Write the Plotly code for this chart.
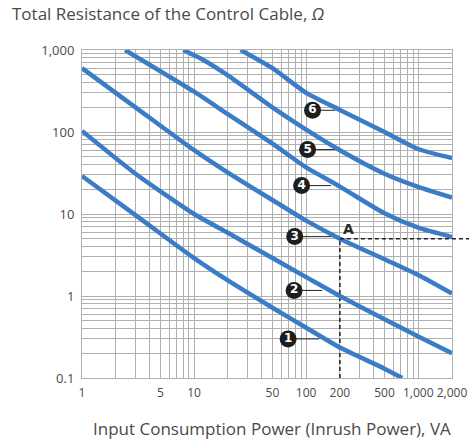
import numpy as np
import plotly.graph_objects as go

# Cable resistance (Ω) against input consumption power (VA) for each numbered curve
curve1_va = [1, 3, 10, 20, 50, 100, 200, 500, 720]
curve1_ohm = [29, 9.7, 2.9, 1.55, 0.72, 0.41, 0.235, 0.13, 0.1]
curve2_va = [1, 3, 10, 20, 50, 100, 200, 500, 1000, 2000]
curve2_ohm = [103, 31, 10, 5.9, 2.9, 1.7, 1.0, 0.52, 0.32, 0.2]
curve3_va = [1, 3, 10, 20, 50, 100, 200, 500, 1000, 2000]
curve3_ohm = [600, 200, 60, 32, 14.8, 8.3, 5.0, 2.8, 1.8, 1.07]
curve4_va = [2.42, 10, 20, 50, 100, 200, 500, 1000, 2000]
curve4_ohm = [1000, 310, 165, 72, 37, 21.6, 10.2, 6.8, 5.25]
curve5_va = [8, 12, 20, 50, 100, 200, 500, 1000, 2000]
curve5_ohm = [1000, 760, 490, 200, 107, 60, 31, 21.4, 15.8]
curve6_va = [26, 50, 100, 200, 500, 1000, 2000]
curve6_ohm = [1000, 600, 300, 186, 100, 62, 48]

curves = [
    (curve1_va, curve1_ohm),
    (curve2_va, curve2_ohm),
    (curve3_va, curve3_ohm),
    (curve4_va, curve4_ohm),
    (curve5_va, curve5_ohm),
    (curve6_va, curve6_ohm),
]

# Worked example: point A on curve 3
A_VA = 200
A_OHM = 5.0

# Axis ticks
x_tickvals = [1, 5, 10, 50, 100, 200, 500, 1000, 2000]
x_ticktext = ["1", "5", "10", "50", "100", "200", "500", "1,000", "2,000"]
y_tickvals = [0.1, 1, 10, 100, 1000]
y_ticktext = ["0.1", "1", "10", "100", "1,000"]

# Numbered callouts: badge position and where its leader meets the curve
callout_text = ["1", "2", "3", "4", "5", "6"]
callout_va = [69, 78, 79, 91, 103, 114]
callout_ohm = [0.30, 1.17, 5.3, 22.2, 61, 184]
leader_end_va = [131, 139, 178, 167, 182, 182]

BLUE = "#3b7cc7"
GRID = "#b0b0b0"
TEXT = "#4a4a4a"
FONT = "Open Sans"

fig = go.Figure()

# leader lines first so the curves sit on top of them
for va, ohm, end in zip(callout_va, callout_ohm, leader_end_va):
    fig.add_trace(go.Scatter(
        x=[va, end], y=[ohm, ohm], mode="lines",
        line=dict(color="#222222", width=1), hoverinfo="skip", showlegend=False))

# dashed guides through point A
fig.add_trace(go.Scatter(
    x=[A_VA, A_VA], y=[0.1, A_OHM], mode="lines",
    line=dict(color="#222222", width=1.5, dash="4px,3px"),
    hoverinfo="skip", showlegend=False))
x_paper_A = np.log10(A_VA) / np.log10(2000)
fig.add_shape(type="line", xref="paper", yref="y",
              x0=x_paper_A, x1=1.06, y0=A_OHM, y1=A_OHM,
              line=dict(color="#222222", width=1.5, dash="4px,3px"))

for va, ohm in curves:
    fig.add_trace(go.Scatter(
        x=va, y=ohm, mode="lines",
        line=dict(color=BLUE, width=4.5, shape="spline", smoothing=0.6),
        hoverinfo="skip", showlegend=False))

fig.add_trace(go.Scatter(
    x=callout_va, y=callout_ohm, mode="markers+text",
    text=callout_text, textposition="middle center",
    textfont=dict(family="DejaVu Sans", size=12, color="white", weight="bold"),
    marker=dict(size=17, color="#1e1e1e"),
    cliponaxis=False, hoverinfo="skip", showlegend=False))

fig.add_annotation(
    x=np.log10(A_VA), y=np.log10(A_OHM), xref="x", yref="y",
    text="<b>A</b>", showarrow=False, xshift=9, yshift=10,
    font=dict(family="DejaVu Sans", size=14, color="#2a2a2a"))

minor_x = [m * 10 ** k for k in range(0, 4) for m in range(2, 10) if m * 10 ** k < 2000]
minor_y = [m * 10 ** k for k in range(-1, 3) for m in range(2, 10)]

fig.update_xaxes(
    type="log", range=[0, np.log10(2000)], automargin=False,
    tickmode="array", tickvals=x_tickvals, ticktext=x_ticktext, tickangle=0,
    ticks="outside", ticklen=4, tickcolor="rgba(0,0,0,0)",
    tickfont=dict(family=FONT, size=12, color=TEXT),
    showgrid=True, gridcolor=GRID, gridwidth=1,
    minor=dict(tickmode="array", tickvals=minor_x, showgrid=True,
               gridcolor=GRID, gridwidth=1, ticks=""),
    showline=True, linecolor=GRID, linewidth=1, mirror=True, zeroline=False)

fig.update_yaxes(
    type="log", range=[-1, 3], automargin=False,
    tickmode="array", tickvals=y_tickvals, ticktext=y_ticktext,
    ticks="outside", ticklen=4, tickcolor="rgba(0,0,0,0)",
    tickfont=dict(family=FONT, size=13, color=TEXT),
    showgrid=True, gridcolor=GRID, gridwidth=1,
    minor=dict(tickmode="array", tickvals=minor_y, showgrid=True,
               gridcolor=GRID, gridwidth=1, ticks=""),
    showline=True, linecolor=GRID, linewidth=1, mirror=True, zeroline=False)

fig.add_annotation(
    xref="paper", yref="paper", x=0.5, y=0, xshift=5, yshift=-50,
    yanchor="middle", showarrow=False,
    text="Input Consumption Power (Inrush Power), VA",
    font=dict(family=FONT, size=17, color=TEXT))

fig.update_layout(
    width=469, height=441,
    margin=dict(l=82, r=17, t=50, b=63),
    paper_bgcolor="white", plot_bgcolor="white",
    title=dict(text="Total Resistance of the Control Cable, <i>Ω</i>",
               x=12 / 469, xanchor="left", xref="container",
               y=1 - 14 / 441, yanchor="middle", yref="container",
               font=dict(family=FONT, size=17, color=TEXT)),
)

fig.write_html("out.html")
